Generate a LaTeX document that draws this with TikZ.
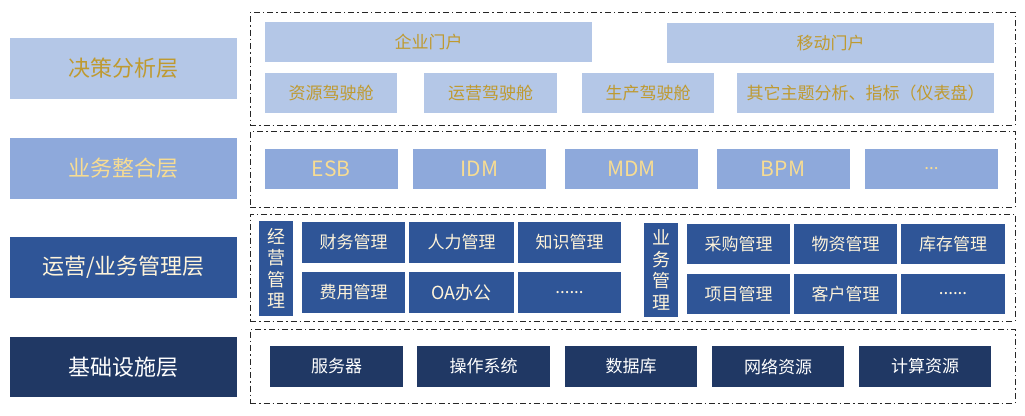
\documentclass[tikz,border=0pt]{standalone}
\usepackage{fontspec}
\newfontfamily\cjk{Noto Sans CJK SC}
\usepackage{tikz}
\usetikzlibrary{positioning,calc}
\definecolor{paleblue}{HTML}{B4C7E7}
\definecolor{midblue}{HTML}{8EA9DB}
\definecolor{deepblue}{HTML}{2F5597}
\definecolor{navyblue}{HTML}{203864}
\definecolor{darkgold}{HTML}{BF9A30}
\definecolor{lightgold}{HTML}{F7DC92}
\definecolor{cream}{HTML}{FFF4DA}

\begin{document}
\begin{tikzpicture}[x=1pt, y=-1pt,
    box/.style={rectangle, inner sep=0pt, minimum width=132pt, minimum height=40pt, align=center, font=\cjk\fontsize{17}{20}\selectfont},
    layer/.style={box, minimum width=227pt, minimum height=61pt, font=\cjk\fontsize{22}{26}\selectfont},
    frame/.style={rectangle, draw=black!85, line width=0.8pt, dash pattern=on 6pt off 3pt on 1.5pt off 3pt, minimum width=765pt},
    decision/.style={box, fill=paleblue, text=darkgold},
    integr/.style={box, fill=midblue, text=lightgold, minimum width=133pt, font=\cjk\fontsize{21}{24}\selectfont},
    operate/.style={box, fill=deepblue, text=cream, minimum width=103pt, minimum height=41pt},
    vert/.style={operate, minimum width=34pt, font=\cjk\fontsize{18}{21.5}\selectfont},
    infra/.style={box, fill=navyblue, text=white, minimum width=133pt, minimum height=41pt}]
    \useasboundingbox (0,0) rectangle (1025,415);

    % Layer titles on the left
    \node[layer, fill=paleblue, text=darkgold] (decL) at (123.5,68.5) {决策分析层};
    \node[layer, fill=midblue, text=lightgold] (intL) at (123.5,168.5) {业务整合层};
    \node[layer, fill=deepblue, text=cream] (opL) at (123.5,267.5) {运营/业务管理层};
    \node[layer, fill=navyblue, text=white, minimum height=60pt] (infL) at (123.5,367) {基础设施层};

    % Dash-dot frames around each layer
    \node[frame, minimum height=113pt] (decF) at (632.5,68.5) {};
    \node[frame, minimum height=76pt] (intF) at (632.5,169) {};
    \node[frame, minimum height=107pt] (opF) at (632.5,267.5) {};
    \node[frame, minimum height=74pt] (infF) at (632.5,366) {};

    % Decision layer
    \node[decision, minimum width=327pt] (portal) at (428.5,42) {企业门户};
    \node[decision, minimum width=327pt] (mobile) at (830.5,43) {移动门户};
    \node[decision] (resCock) at (331,93) {资源驾驶舱};
    \node[decision, minimum width=133pt] (opCock) at (490.5,93) {运营驾驶舱};
    \node[decision] (prodCock) at (648,93) {生产驾驶舱};
    \node[decision, minimum width=257pt] (otherCock) at (865.5,93) {其它主题分析、指标（仪表盘）};

    % Integration layer
    \node[integr] (esb) at (331,169) {ESB};
    \node[integr] (idm) at (479.5,169) {IDM};
    \node[integr] (mdm) at (631.5,169) {MDM};
    \node[integr] (bpm) at (783,169) {BPM};
    \node[integr, font=\cjk\fontsize{17}{20}\selectfont] (moreI) at (931.5,169) {...};

    % Operation / business management layer
    \node[vert, minimum height=95pt] (mgmt) at (276,268.5) {经\\营\\管\\理};
    \node[operate] (finance) at (353.5,242.5) {财务管理};
    \node[operate, minimum width=105pt] (hr) at (461.5,242.5) {人力管理};
    \node[operate] (know) at (569.5,242.5) {知识管理};
    \node[operate] (cost) at (353.5,292.5) {费用管理};
    \node[operate, minimum width=105pt, font=\cjk\fontsize{18}{20}\selectfont] (oa) at (461.5,292.5) {OA办公};
    \node[operate] (moreA) at (569.5,292.5) {......};

    \node[vert, minimum height=94pt] (biz) at (661,270) {业\\务\\管\\理};
    \node[operate, minimum height=40pt] (purchase) at (738.5,244) {采购管理};
    \node[operate, minimum height=40pt] (material) at (845.5,244) {物资管理};
    \node[operate, minimum height=40pt, minimum width=104pt] (stock) at (953,244) {库存管理};
    \node[operate, minimum height=40pt] (project) at (738.5,294) {项目管理};
    \node[operate, minimum height=40pt] (customer) at (845.5,294) {客户管理};
    \node[operate, minimum height=40pt, minimum width=104pt] (moreB) at (953,294) {......};

    % Infrastructure layer
    \node[infra] (server) at (336.5,366.5) {服务器};
    \node[infra] (os) at (483.5,366.5) {操作系统};
    \node[infra, minimum width=132pt] (db) at (631,366.5) {数据库};
    \node[infra, minimum width=132pt] (net) at (778,366.5) {网络资源};
    \node[infra, minimum width=132pt] (compute) at (925,366.5) {计算资源};
\end{tikzpicture}
\end{document}
